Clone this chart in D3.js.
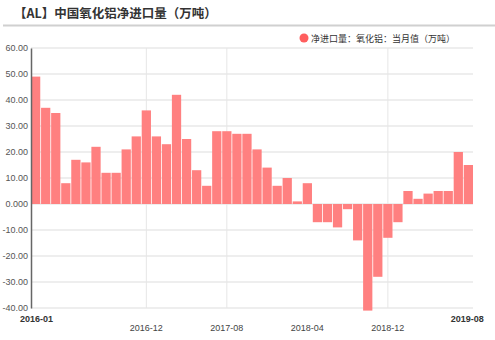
<!DOCTYPE html>
<html>
<head>
<meta charset="utf-8">
<script src="https://cdn.jsdelivr.net/npm/d3@7"></script>
<style>
  body { margin: 0; background: #fff; }
  svg { display: block; font-family: "Noto Sans CJK SC", "DejaVu Sans", sans-serif; }
</style>
</head>
<body>
<svg id="chart" width="495" height="340"></svg>
<script>
const months = [];
for (let y = 2016; y <= 2019; y++) {
  for (let m = 1; m <= 12; m++) {
    if (y === 2019 && m > 8) break;
    months.push(`${y}-${String(m).padStart(2, '0')}`);
  }
}
const values = [49, 37, 35, 8, 17, 16, 22, 12, 12, 21, 26, 36,
                26, 23, 42, 25, 13, 7, 28, 28, 27, 27, 21, 14,
                7, 10, 1, 8, -7, -7, -9, -2, -14, -41, -28, -13,
                -7, 5, 2, 4, 5, 5, 20, 15];
const yTicks = [60, 50, 40, 30, 20, 10, 0, -10, -20, -30, -40];
const yTickLabels = ['60.00', '50.00', '40.00', '30.00', '20.00', '10.00', '0.000', '-10.00', '-20.00', '-30.00', '-40.00'];
const xLabelsLow = ['2016-12', '2017-08', '2018-04', '2018-12'];
const xLabelsEnd = ['2016-01', '2019-08'];
const xGrid = ['2016-12', '2017-08', '2018-12'];

const title = '【AL】中国氧化铝净进口量（万吨）';
const legendText = '净进口量：氧化铝：当月值（万吨）';

const margin = { top: 48, right: 22, bottom: 32, left: 31 };
const width = 495, height = 340;
const svg = d3.select('#chart');

// title and rule
svg.append('text')
  .attr('x', 14).attr('y', 18)
  .style('font-size', '12.5px').style('font-weight', 'bold').attr('fill', '#333')
  .text(title);
svg.append('line')
  .attr('x1', 3).attr('x2', 495).attr('y1', 25.5).attr('y2', 25.5)
  .attr('stroke', '#d0d0d0').attr('stroke-width', 2);

// legend
svg.append('circle').attr('cx', 304).attr('cy', 38).attr('r', 4.5).attr('fill', '#ff5e5e');
svg.append('text')
  .attr('x', 311).attr('y', 41.5)
  .style('font-size', '9px').attr('fill', '#333')
  .text(legendText);

const x = d3.scaleBand()
  .domain(months)
  .range([margin.left, width - margin.right])
  .paddingInner(0.08).paddingOuter(0);

const y = d3.scaleLinear()
  .domain([-40, 60])
  .range([308, margin.top]);

const g = svg.append('g');

// horizontal gridlines
g.selectAll('.hgrid')
  .data(yTicks)
  .join('line')
  .attr('class', 'hgrid')
  .attr('x1', margin.left).attr('x2', width - margin.right)
  .attr('y1', d => y(d)).attr('y2', d => y(d))
  .attr('stroke', '#eeeeee').attr('stroke-width', 2);

// vertical gridlines
g.selectAll('.vgrid')
  .data(xGrid)
  .join('line')
  .attr('class', 'vgrid')
  .attr('x1', d => x(d) + x.bandwidth() / 2).attr('x2', d => x(d) + x.bandwidth() / 2)
  .attr('y1', y(60)).attr('y2', y(-40))
  .attr('stroke', '#e6e6e6').attr('stroke-width', 1);

// bars
g.selectAll('.bar')
  .data(values)
  .join('rect')
  .attr('class', 'bar')
  .attr('x', (d, i) => x(months[i]))
  .attr('width', x.bandwidth())
  .attr('y', d => y(Math.max(0, d)))
  .attr('height', d => Math.abs(y(d) - y(0)))
  .attr('fill', '#ff8080');

// y axis
const yAxis = d3.axisLeft(y)
  .tickValues(yTicks)
  .tickSize(0)
  .tickPadding(3)
  .tickFormat((d, i) => yTickLabels[i]);
const ya = svg.append('g')
  .attr('transform', `translate(${margin.left},0)`)
  .call(yAxis);
ya.select('.domain').attr('stroke', '#666').attr('stroke-width', 1.5);
ya.selectAll('text').style('font-size', '9px').attr('fill', '#555').style('font-family', 'Arial, "Liberation Sans", sans-serif');

// x labels (ends raised and bold)
const xa = svg.append('g');
xa.selectAll('.xl')
  .data(xLabelsLow)
  .join('text')
  .attr('class', 'xl')
  .attr('x', d => x(d) + x.bandwidth() / 2)
  .attr('y', 331)
  .attr('text-anchor', 'middle')
  .style('font-size', '9px').attr('fill', '#444')
  .style('font-family', 'Arial, "Liberation Sans", sans-serif')
  .text(d => d);
xa.selectAll('.xe')
  .data(xLabelsEnd)
  .join('text')
  .attr('class', 'xe')
  .attr('x', (d, i) => i === 0 ? x(d) - 11 : x(d) - 13)
  .attr('y', 322)
  .style('font-size', '9px').style('font-weight', 'bold').attr('fill', '#333')
  .style('font-family', 'Arial, "Liberation Sans", sans-serif')
  .text(d => d);
</script>
</body>
</html>
